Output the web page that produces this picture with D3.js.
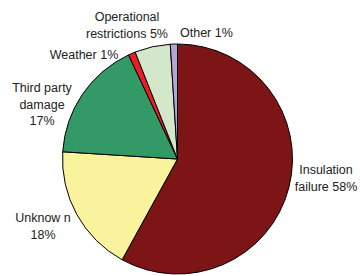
<!DOCTYPE html>
<html>
<head>
<meta charset="utf-8">
<script src="https://cdn.jsdelivr.net/npm/d3@7"></script>
<style>
  body { margin: 0; background: #fff; }
  svg { display: block; }
  text { font-family: "Liberation Sans", Arial, sans-serif; font-size: 12.5px; fill: #222; }
</style>
</head>
<body>
<script>
// Slices, clockwise from 12 o'clock
const categories = ["Insulation failure", "Unknown", "Third party damage", "Weather", "Operational restrictions", "Other"];
const values = [58, 18, 17, 1, 5, 1];
const colors = ["#7d1416", "#f8f39c", "#339966", "#f01c24", "#d3e7cb", "#b9a2d6"];

// Label lines as printed, with their anchor points
const labelLines = [
  ["Insulation", "failure 58%"],
  ["Unknow n", "18%"],
  ["Third party", "damage", "17%"],
  ["Weather 1%"],
  ["Operational", "restrictions 5%"],
  ["Other 1%"]
];
const labelPos = [
  { x: 326, y: 174, anchor: "middle" },
  { x: 43, y: 222, anchor: "middle" },
  { x: 42, y: 92, anchor: "middle" },
  { x: 84, y: 59, anchor: "middle" },
  { x: 127, y: 21, anchor: "middle" },
  { x: 180, y: 37, anchor: "start" }
];

const width = 360, height = 276;
const cx = 177.5, cy = 159, radius = 115;

const svg = d3.select("body")
  .append("svg")
  .attr("width", width)
  .attr("height", height);

const pie = d3.pie().sort(null).value(d => d);
const arc = d3.arc().innerRadius(0).outerRadius(radius);

const g = svg.append("g").attr("transform", `translate(${cx},${cy})`);

g.selectAll("path")
  .data(pie(values))
  .enter()
  .append("path")
  .attr("d", arc)
  .attr("fill", (d, i) => colors[i])
  .attr("stroke", "#000")
  .attr("stroke-width", 1)
  .attr("stroke-linejoin", "round");

// Labels
const labels = svg.append("g");
categories.forEach((c, i) => {
  const p = labelPos[i];
  const t = labels.append("text")
    .attr("x", p.x)
    .attr("y", p.y)
    .attr("text-anchor", p.anchor);
  labelLines[i].forEach((line, j) => {
    t.append("tspan")
      .attr("x", p.x)
      .attr("y", p.y + j * 16.5)
      .text(line);
  });
});
</script>
</body>
</html>
